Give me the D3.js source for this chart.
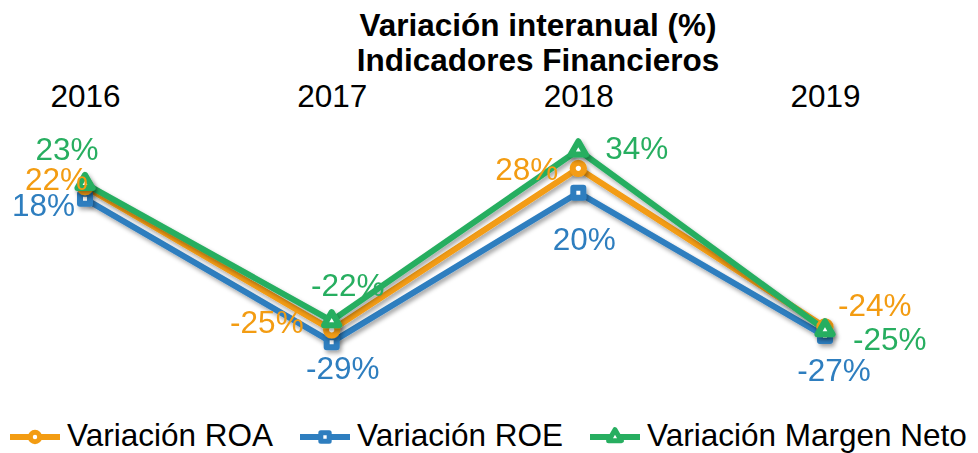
<!DOCTYPE html>
<html><head><meta charset="utf-8">
<script src="https://cdn.jsdelivr.net/npm/d3@7"></script>
<style>body{margin:0;background:#fff}svg{display:block;font-family:"Liberation Sans",Arial,sans-serif}</style>
</head><body><svg id="c" width="978" height="453"></svg>
<script>
const categories = ["2016","2017","2018","2019"];
const roa = [22,-25,28,-24];
const roe = [18,-29,20,-27];
const margen = [23,-22,34,-25];
const seriesNames = ["Variación ROA","Variación ROE","Variación Margen Neto"];
const colors = ["#F39C12","#2E7EBF","#27AE60"];
// label placement: [dx, dy, anchor] per series per category
const labelPos = [
  [[3,3,"end"],[-28,3,"end"],[-20,12,"end"],[13,-11,"start"]],
  [[-10,17,"end"],[11,37,"middle"],[6,57,"middle"],[9,45,"middle"]],
  [[-18,-24,"middle"],[16,-25,"middle"],[27,9,"start"],[28,20,"start"]]
];
const svg = d3.select("#c");
const x = d3.scalePoint().domain(categories).range([85,825]);
const y = d3.scaleLinear().domain([-40,40]).range([375.7,131.7]);
const data = [roa,roe,margen];
const FS = 31.5;

svg.append("text").attr("x",538).attr("y",36).attr("text-anchor","middle").attr("font-size",FS).attr("font-weight","bold").text("Variación interanual (%)");
svg.append("text").attr("x",538).attr("y",71).attr("text-anchor","middle").attr("font-size",FS).attr("font-weight","bold").text("Indicadores Financieros");

const xAxis = d3.axisTop(x).tickSize(0).tickPadding(0);
const ax = svg.append("g").attr("transform","translate(0,107)").call(xAxis);
ax.select(".domain").remove();
ax.selectAll("text").attr("font-size",FS).attr("font-family","Liberation Sans, Arial, sans-serif").attr("fill","#000");

const defs = svg.append("defs");
const f = defs.append("filter").attr("id","sh").attr("x","-10%").attr("y","-10%").attr("width","130%").attr("height","140%");
f.append("feDropShadow").attr("dx",2).attr("dy",3).attr("stdDeviation",2).attr("flood-color","#000").attr("flood-opacity",0.35);

const line = d3.line().x((d,i)=>x(categories[i])).y(d=>y(d));
const order = [1,0,2];
const symFor = (s,size) => s===0 ? d3.symbol(d3.symbolCircle,size) : s===1 ? d3.symbol(d3.symbolSquare,size) : d3.symbol(d3.symbolTriangle,size);
order.forEach(s=>{
  const g = svg.append("g").attr("filter","url(#sh)");
  g.append("path").attr("d",line(data[s])).attr("fill","none").attr("stroke",colors[s]).attr("stroke-width",6).attr("stroke-linejoin","round");
});
order.forEach(s=>{
  const g = svg.append("g").attr("filter","url(#sh)");
  data[s].forEach((v,i)=>{
    g.append("path").attr("d",symFor(s,100)()).attr("transform",`translate(${x(categories[i])},${y(v)})`)
      .attr("fill","#fff").attr("stroke",colors[s]).attr("stroke-width",6).attr("stroke-linejoin","round");
  });
});
[0,1,2].forEach(s=>{
  data[s].forEach((v,i)=>{
    const p = labelPos[s][i];
    svg.append("text").attr("x",x(categories[i])+p[0]).attr("y",y(v)+p[1]).attr("text-anchor",p[2])
      .attr("font-size",FS).attr("fill",colors[s]).text(v+"%");
  });
});

const legX = [10,300,590];
seriesNames.forEach((n,s)=>{
  const g = svg.append("g").attr("transform",`translate(${legX[s]},437)`);
  g.append("line").attr("x1",0).attr("x2",50).attr("stroke",colors[s]).attr("stroke-width",6);
  g.append("path").attr("d",symFor(s,70)()).attr("transform","translate(25,0)").attr("fill","#fff").attr("stroke",colors[s]).attr("stroke-width",5).attr("stroke-linejoin","round");
  g.append("text").attr("x",57).attr("y",9).attr("font-size",FS).attr("fill","#000").text(n);
});
</script></body></html>
